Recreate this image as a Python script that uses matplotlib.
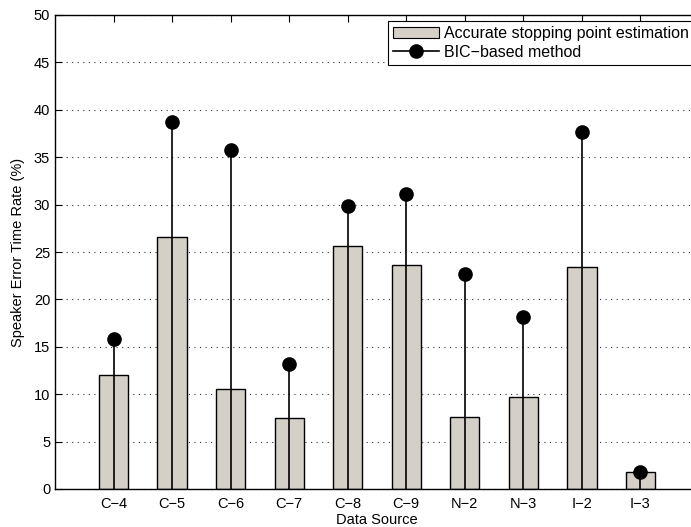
import numpy as np
import matplotlib
matplotlib.use("Agg")
import matplotlib.pyplot as plt
from matplotlib.legend_handler import HandlerLine2D
from matplotlib.lines import Line2D
from matplotlib.patches import Patch

plt.rcParams["font.family"] = ["Liberation Sans", "DejaVu Sans"]

sources = ["C\u22124", "C\u22125", "C\u22126", "C\u22127", "C\u22128",
           "C\u22129", "N\u22122", "N\u22123", "I\u22122", "I\u22123"]
accurate = [12.0, 26.6, 10.6, 7.5, 25.6, 23.6, 7.6, 9.7, 23.4, 1.8]
bic = [15.8, 38.7, 35.8, 13.2, 29.9, 31.1, 22.7, 18.1, 37.7, 1.8]

BAR_COLOR = "#d4d0c8"


class MarkerAtEnd(HandlerLine2D):
    # put the legend marker at the right end of the sample line
    def get_xdata(self, legend, xdescent, ydescent, width, height, fontsize):
        xdata, _ = super().get_xdata(legend, xdescent, ydescent, width,
                                     height, fontsize)
        return xdata, np.array([width - xdescent - 2])


fig = plt.figure(figsize=(6.91, 5.27), dpi=100)
ax = fig.add_axes([55 / 691, 1 - 489 / 527, 644 / 691, 474 / 527])

x = np.arange(1, len(sources) + 1)
ax.bar(x, accurate, width=0.5, color=BAR_COLOR, edgecolor="black",
       linewidth=1.0, zorder=2)
ax.vlines(x, 0, bic, color="black", linewidth=1.2, zorder=3)
ax.plot(x, bic, "o", color="black", markersize=9.5, zorder=4)

ax.set_xlim(0, 11)
ax.set_ylim(0, 50)
ax.set_xticks(x)
ax.set_xticklabels(sources)
ax.set_yticks(np.arange(0, 51, 5))
ax.tick_params(direction="in", top=True, right=False, length=5,
               labelsize=10.5, width=0.8)
ax.tick_params(axis="x", pad=6)
ax.yaxis.grid(True, linestyle=(0, (1, 4)), color="#333333", linewidth=0.8)
ax.set_axisbelow(True)
for s in ax.spines.values():
    s.set_linewidth(1.0)

ax.set_xlabel("Data Source", fontsize=10.5, labelpad=1)
ax.set_ylabel("Speaker Error Time Rate (%)", fontsize=10.5, labelpad=6)

handles = [Patch(facecolor=BAR_COLOR, edgecolor="black", linewidth=0.8),
           Line2D([], [], color="black", linewidth=1.2, marker="o",
                  markersize=9.5)]
leg = fig.legend(handles,
                 ["Accurate stopping point estimation", "BIC\u2212based method"],
                 loc="upper left", bbox_to_anchor=(388 / 691, 1 - 21 / 527),
                 fontsize=11.5, numpoints=1, fancybox=False, framealpha=1,
                 edgecolor="black", borderaxespad=0, borderpad=0.3,
                 handlelength=2.9, handletextpad=0.3, labelspacing=0.25,
                 handler_map={Line2D: MarkerAtEnd()})
leg.get_frame().set_linewidth(0.8)

fig.savefig("out.png", dpi=100)
